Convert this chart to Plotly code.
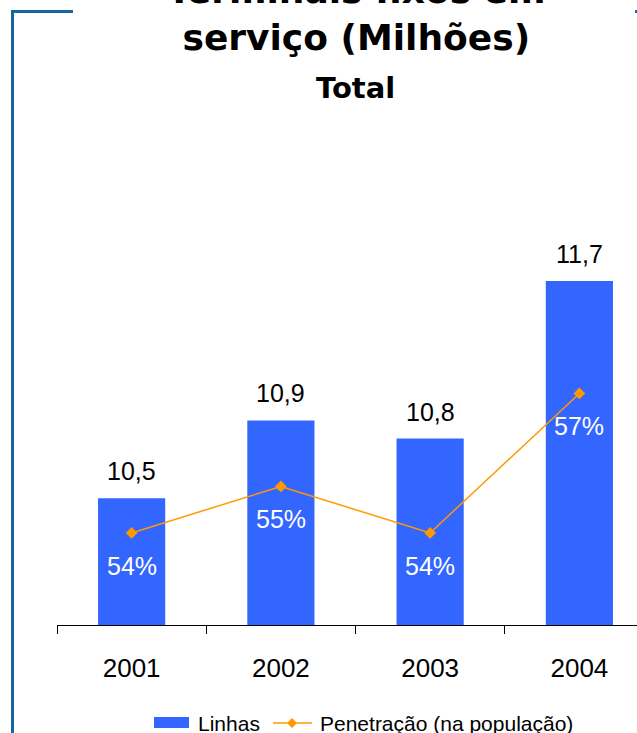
import plotly.graph_objects as go

# Data
years = ["2001", "2002", "2003", "2004"]
linhas = [10.50, 10.93, 10.83, 11.70]          # milhões
penetracao = [54.0, 55.0, 54.0, 57.0]          # %
series_names = ["Linhas", "Penetração (na população)"]
title_text = "Terminais fixos em<br>serviço (Milhões)"
subtitle_text = "Total"

W, H = 637, 733
ML, MR, MT, MB = 57, 0, 130, 108
PW, PH = W - ML - MR, H - MT - MB

def px(x):  # page pixel -> paper x
    return (x - ML) / PW

def py(y):  # page pixel -> paper y
    return (H - MB - y) / PH

FONT = "Arial, Liberation Sans, sans-serif"
TFONT = "DejaVu Sans, sans-serif"
BAR_C = "#3366FF"
LINE_C = "#FF9900"
FRAME_C = "#16679E"

idx = list(range(len(years)))

fig = go.Figure()
fig.add_trace(go.Bar(
    x=idx, y=linhas, name=series_names[0],
    marker=dict(color=BAR_C, line=dict(width=0)),
    width=0.45, yaxis="y", hoverinfo="skip",
))
fig.add_trace(go.Scatter(
    x=idx, y=penetracao, name=series_names[1], yaxis="y2",
    mode="lines+markers", line=dict(color=LINE_C, width=1.5),
    marker=dict(symbol="diamond", size=9, color=LINE_C), hoverinfo="skip",
))
# carrier for the boundary-ticks axis
fig.add_trace(go.Scatter(x=[None], y=[None], xaxis="x2", showlegend=False,
                         hoverinfo="skip"))

annotations = []
for i, v in zip(idx, linhas):
    annotations.append(dict(
        x=i, y=v, xref="x", yref="y", text=f"{v:.1f}".replace(".", ","),
        showarrow=False, yanchor="bottom", yshift=11,
        font=dict(family=FONT, size=25, color="black"),
    ))
for i, p in zip(idx, penetracao):
    annotations.append(dict(
        x=i, y=p, xref="x", yref="y2", text=f"{p:.0f}%",
        showarrow=False, yanchor="middle", yshift=-33,
        font=dict(family=FONT, size=25, color="white"),
    ))
annotations.append(dict(
    x=px(356), y=py(60), xref="paper", yref="paper", text=f"<b>{title_text}</b>",
    showarrow=False, xanchor="center", yanchor="bottom",
    font=dict(family=TFONT, size=36, color="black"),
))
annotations.append(dict(
    x=px(355), y=py(107), xref="paper", yref="paper", text=f"<b>{subtitle_text}</b>",
    showarrow=False, xanchor="center", yanchor="bottom",
    font=dict(family=TFONT, size=29, color="black"),
))

# hand-drawn legend (wide swatch like the original)
LEG_Y = 723
annotations.append(dict(
    x=px(196), y=py(LEG_Y), xref="paper", yref="paper", text=series_names[0],
    showarrow=False, xanchor="left", yanchor="middle",
    font=dict(family=FONT, size=21, color="black"),
))
annotations.append(dict(
    x=px(318), y=py(LEG_Y), xref="paper", yref="paper", text=series_names[1],
    showarrow=False, xanchor="left", yanchor="middle",
    font=dict(family=FONT, size=21, color="black"),
))

dx, dy = 5 / PW, 5 / PH
mx, my = px(292), py(LEG_Y)
shapes = [
    dict(type="line", xref="paper", yref="paper", x0=px(12.5), x1=px(12.5),
         y0=py(10), y1=py(745), line=dict(color=FRAME_C, width=3)),
    dict(type="line", xref="paper", yref="paper", x0=px(11), x1=px(73),
         y0=py(11.5), y1=py(11.5), line=dict(color=FRAME_C, width=3)),
    dict(type="line", xref="paper", yref="paper", x0=px(635), x1=px(645),
         y0=py(11.5), y1=py(11.5), line=dict(color=FRAME_C, width=3)),
    # legend swatches
    dict(type="rect", xref="paper", yref="paper", x0=px(154), x1=px(189),
         y0=py(717), y1=py(728), fillcolor=BAR_C, line=dict(width=0)),
    dict(type="line", xref="paper", yref="paper", x0=px(273), x1=px(312),
         y0=py(LEG_Y), y1=py(LEG_Y), line=dict(color=LINE_C, width=1.5)),
    dict(type="path", xref="paper", yref="paper",
         path=f"M {mx - dx} {my} L {mx} {my + dy} L {mx + dx} {my} L {mx} {my - dy} Z",
         fillcolor=LINE_C, line=dict(color=LINE_C, width=0)),
]

fig.update_layout(
    width=W, height=H,
    margin=dict(l=ML, r=MR, t=MT, b=MB, pad=0),
    paper_bgcolor="white", plot_bgcolor="white",
    font=dict(family=FONT, color="black"),
    showlegend=False,
    xaxis=dict(
        range=[-0.5, 3.386], showline=True, linecolor="black",
        linewidth=1, ticks="",
        tickmode="array", tickvals=idx, ticktext=years,
        showgrid=False, zeroline=False, showticklabels=True,
        tickfont=dict(family=FONT, size=26, color="black"), ticklabelstandoff=20,
    ),
    xaxis2=dict(
        range=[-0.5, 3.386], overlaying="x", side="bottom", ticks="outside",
        ticklen=8, tickcolor="black", tickwidth=1, tickmode="array",
        tickvals=[i - 0.5 for i in idx], showticklabels=False, showgrid=False,
        zeroline=False, showline=False, anchor="y",
    ),
    yaxis=dict(range=[9.8, 9.8 + PH / 181.0], visible=False, showgrid=False),
    yaxis2=dict(range=[52.02, 52.02 + PH / 46.5], overlaying="y", visible=False,
                showgrid=False),
    annotations=annotations,
    shapes=shapes,
)

# the page is exactly the window: drop the default 8px body margin
fig.write_html(
    "out.html",
    config={"displayModeBar": False},
    post_script="document.body.style.margin='0';"
                "document.body.style.overflow='hidden';",
)
